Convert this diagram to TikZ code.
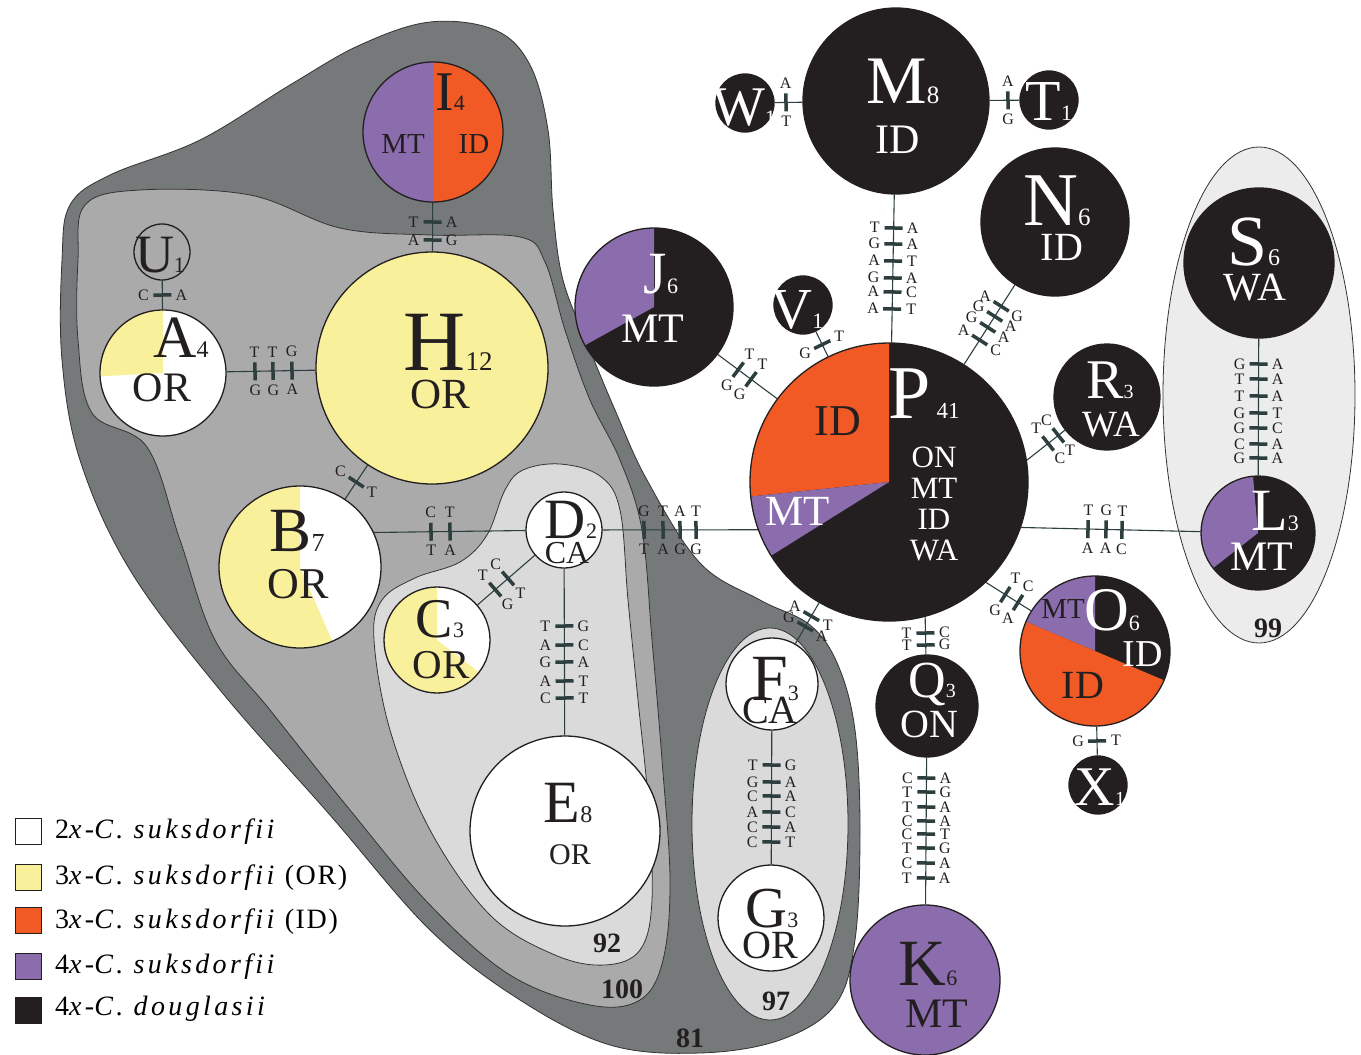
\documentclass[tikz,border=0pt]{standalone}
\usepackage{fontspec}
\setmainfont{Liberation Serif}
\usetikzlibrary{calc}
\pgfdeclarelayer{blobs}
\pgfdeclarelayer{links}
\pgfdeclarelayer{wedges}
\pgfsetlayers{blobs,links,wedges,main}

\definecolor{cyel}{HTML}{F9F09B}
\definecolor{corg}{HTML}{F15A25}
\definecolor{cpur}{HTML}{8B6DAE}
\definecolor{cblk}{HTML}{231F20}
\definecolor{gdark}{HTML}{75797A}
\definecolor{gmid}{HTML}{AAAAAA}
\definecolor{glight}{HTML}{DADADA}
\definecolor{gpale}{HTML}{ECECEC}
\definecolor{linec}{HTML}{2C3E3D}

\newcommand\fs[1]{\fontsize{#1}{#1}\selectfont}
% haplotype name with its count: letter, count, letter size, count size
\newcommand\hl[4]{{\fs{#3}#1}{\fs{#4}#2}}
% region tag in the legend, set with tighter spacing
\newcommand\regtag[1]{\hspace{7pt}{\addfontfeature{LetterSpace=6}(#1)}}

\tikzset{
  hap/.style={circle, draw=cblk, line width=1.3pt, inner sep=0pt},
  link/.style={draw=linec, line width=1.1pt},
  tick/.style={draw=linec, line width=3.5pt},
  base/.style={font=\fs{16}, text=cblk, inner sep=0pt},
  txt/.style={inner sep=0pt, anchor=base},
  boot/.style={font=\fs{28}\bfseries, inner sep=0pt, anchor=base, text=cblk},
  legbox/.style={draw=cblk, line width=1pt, minimum size=26pt, inner sep=0pt},
  legtxt/.style={inner sep=0pt, anchor=base west, font=\fs{28}\addfontfeature{LetterSpace=12}},
  region/.style={draw=black!80, line width=0.8pt},
}

% one mutation step on the link #1--#2, #3 pt from the centre of #1,
% base #4 on the counter-clockwise side, base #5 on the other side
\newcounter{mk}
\newcommand\mut[5]{%
  \stepcounter{mk}%
  \coordinate (mx\themk) at ($(#1)!#3pt!(#2)$);
  \begin{pgfonlayer}{links}
    \draw[tick] ($(mx\themk)!9pt!90:(#2)$) -- ($(mx\themk)!9pt!-90:(#2)$);
  \end{pgfonlayer}
  \node[base] (ma\themk) at ($(mx\themk)!19pt!90:(#2)$) {#4};
  \node[base] (mb\themk) at ($(mx\themk)!19pt!-90:(#2)$) {#5};}

% pie wedge: centre, radius, from angle, to angle (counter-clockwise), colour
\newcommand\hapwedge[5]{%
  \begin{pgfonlayer}{wedges}
    \fill[#5] (#1) -- ++(-#3:#2) arc[start angle=-#3, end angle=-#4, radius=#2] -- cycle;
  \end{pgfonlayer}}

\begin{document}
\begin{tikzpicture}[x=1pt,y=-1pt]
\useasboundingbox (0,0) rectangle (1361,1055);

% ---- support regions ----
\begin{pgfonlayer}{blobs}
\fill[white] (0,0) rectangle (1361,1055);
\fill[gdark, region] plot[smooth cycle, tension=0.6] coordinates {
  (62,260) (70,205) (110,175) (200,140) (290,85) (360,45) (430,22) (495,30)
  (530,65) (548,130) (553,210) (563,280) (588,345) (615,410) (647,480)
  (700,563) (760,600) (810,625) (838,665) (855,730) (860,830) (855,940)
  (835,1005) (780,1040) (700,1053) (610,1045) (520,1000) (430,930)
  (330,815) (220,690) (130,570) (80,460) (62,360)};
\fill[gmid, region] plot[smooth cycle, tension=0.6] coordinates {
  (78,260) (85,205) (140,190) (250,195) (340,228) (430,235) (520,237)
  (545,262) (565,330) (590,400) (620,460) (642,530) (652,640) (662,760)
  (670,880) (663,960) (640,1000) (590,1005) (510,975) (430,905) (350,810)
  (270,710) (215,640) (180,540) (147,447) (92,413) (78,340)};
\fill[glight, region] plot[smooth cycle, tension=0.6] coordinates {
  (505,490) (523,470) (560,464) (600,476) (620,510) (628,600) (638,700)
  (648,800) (652,900) (640,950) (605,965) (555,955) (490,915) (430,830)
  (390,730) (374,640) (382,600) (415,578) (460,562) (487,535)};
\fill[glight, region] (770,824) ellipse[x radius=78, y radius=196];
\fill[gpale, region] (1259,395) ellipse[x radius=96, y radius=248];
\end{pgfonlayer}

% ---- haplotypes ----
\node[hap, minimum size=140pt] (hI) at (433,132) {};
\hapwedge{433,132}{70}{90}{270}{cpur}
\hapwedge{433,132}{70}{270}{450}{corg}
\node[hap, minimum size=56pt] (hU) at (162,252) {};
\node[hap, minimum size=126pt] (hA) at (163,373) {};
\hapwedge{163,373}{63}{0}{360}{white}
\hapwedge{163,373}{63}{90}{183}{cyel}
\node[hap, minimum size=232pt, fill=cyel] (hH) at (432,368) {};
\node[hap, minimum size=162pt] (hB) at (300,567) {};
\hapwedge{300,567}{81}{0}{360}{white}
\hapwedge{300,567}{81}{90}{293.5}{cyel}
\node[hap, minimum size=106pt] (hC) at (437,640) {};
\hapwedge{437,640}{53}{0}{360}{white}
\hapwedge{437,640}{53}{90}{322.5}{cyel}
\node[hap, minimum size=76pt, fill=white] (hD) at (564,530) {};
\node[hap, minimum size=190pt, fill=white] (hE) at (565,831) {};
\node[hap, minimum size=92pt, fill=white] (hF) at (772,684) {};
\node[hap, minimum size=106pt, fill=white] (hG) at (771,918) {};
\node[hap, minimum size=158pt] (hJ) at (654,307) {};
\hapwedge{654,307}{79}{0}{360}{cblk}
\hapwedge{654,307}{79}{90}{209}{cpur}
\node[hap, minimum size=58pt, fill=cblk] (hV) at (803,305) {};
\node[hap, minimum size=278pt] (hP) at (889,482) {};
\hapwedge{889,482}{139}{0}{360}{cblk}
\hapwedge{889,482}{139}{90}{186}{corg}
\hapwedge{889,482}{139}{186}{212}{cpur}
\node[hap, minimum size=186pt, fill=cblk] (hM) at (896,101) {};
\node[hap, minimum size=58pt, fill=cblk] (hW) at (745,103) {};
\node[hap, minimum size=58pt, fill=cblk] (hT) at (1049,100) {};
\node[hap, minimum size=148pt, fill=cblk] (hN) at (1055,222) {};
\node[hap, minimum size=106pt, fill=cblk] (hR) at (1107,397) {};
\node[hap, minimum size=150pt, fill=cblk] (hS) at (1259,263) {};
\node[hap, minimum size=114pt] (hL) at (1258,533) {};
\hapwedge{1258,533}{57}{0}{360}{cblk}
\hapwedge{1258,533}{57}{95}{218}{cpur}
\node[hap, minimum size=150pt] (hO) at (1095,651) {};
\hapwedge{1095,651}{75}{0}{360}{cblk}
\hapwedge{1095,651}{75}{90}{157}{cpur}
\hapwedge{1095,651}{75}{157}{337}{corg}
\node[hap, minimum size=58pt, fill=cblk] (hX) at (1098,785) {};
\node[hap, minimum size=102pt, fill=cblk] (hQ) at (927,706) {};
\node[hap, minimum size=150pt, fill=cpur] (hK) at (925,980) {};

% ---- links ----
\coordinate (bD) at (hB.25);
\coordinate (pD) at (hP.200);
\coordinate (pR) at (hP.9);
\coordinate (pL) at (hP.-19);
\coordinate (pO) at (hP.-46);
\coordinate (pQ) at (hP.-75);
\begin{pgfonlayer}{links}
\draw[link] (hU) -- (hA);
\draw[link] (hA) -- (hH);
\draw[link] (hI) -- (hH);
\draw[link] (hH) -- (hB);
\draw[link] (bD) -- (hD);
\draw[link] (hD) -- (hC);
\draw[link] (hD) -- (hE);
\draw[link] (hD) -- (pD);
\draw[link] (hP) -- (hF);
\draw[link] (hF) -- (hG);
\draw[link] (hJ) -- (hP);
\draw[link] (hV) -- (hP);
\draw[link] (hM) -- (hP);
\draw[link] (hW) -- (hM);
\draw[link] (hM) -- (hT);
\draw[link] (hN) -- (hP);
\draw[link] (hR) -- (pR);
\draw[link] (pL) -- (hL);
\draw[link] (hS) -- (hL);
\draw[link] (hO) -- (pO);
\draw[link] (hO) -- (hX);
\draw[link] (hQ) -- (pQ);
\draw[link] (hQ) -- (hK);
\end{pgfonlayer}

% ---- mutation steps ----
\mut{hU}{hA}{43}{A}{C}
\mut{hA}{hH}{92}{T}{G}
\mut{hA}{hH}{110}{T}{G}
\mut{hA}{hH}{129}{G}{A}
\mut{hI}{hH}{90}{A}{T}
\mut{hI}{hH}{108}{G}{A}
\mut{hH}{hB}{137}{T}{C}
\mut{bD}{hD}{57}{C}{T}
\mut{bD}{hD}{76}{T}{A}
\mut{hD}{hC}{74}{T}{C}
\mut{hD}{hC}{91}{G}{T}
\mut{hD}{hE}{96}{G}{T}
\mut{hD}{hE}{115}{C}{A}
\mut{hD}{hE}{132}{A}{G}
\mut{hD}{hE}{151}{T}{A}
\mut{hD}{hE}{168}{T}{C}
\mut{hD}{pD}{80}{G}{T}
\mut{hD}{pD}{99}{T}{A}
\mut{hD}{pD}{116}{A}{G}
\mut{hD}{pD}{132}{T}{G}
\mut{hP}{hF}{155}{T}{A}
\mut{hP}{hF}{167}{A}{G}
\mut{hF}{hG}{81}{G}{T}
\mut{hF}{hG}{98}{A}{G}
\mut{hF}{hG}{112}{A}{C}
\mut{hF}{hG}{128}{C}{A}
\mut{hF}{hG}{143}{A}{C}
\mut{hF}{hG}{158}{T}{C}
\mut{hJ}{hP}{105}{T}{G}
\mut{hJ}{hP}{121}{T}{G}
\mut{hV}{hP}{44}{T}{G}
\mut{hM}{hP}{127}{A}{T}
\mut{hM}{hP}{143}{A}{G}
\mut{hM}{hP}{160}{T}{A}
\mut{hM}{hP}{177}{A}{G}
\mut{hM}{hP}{191}{C}{A}
\mut{hM}{hP}{208}{T}{A}
\mut{hW}{hM}{41}{A}{T}
\mut{hM}{hT}{112}{A}{G}
\mut{hN}{hP}{100}{G}{A}
\mut{hN}{hP}{112}{A}{G}
\mut{hN}{hP}{125}{A}{G}
\mut{hN}{hP}{140}{C}{A}
\mut{hR}{pR}{62}{T}{C}
\mut{hR}{pR}{75}{C}{T}
\mut{pL}{hL}{67}{T}{A}
\mut{pL}{hL}{85}{G}{A}
\mut{pL}{hL}{101}{T}{C}
\mut{hS}{hL}{101}{A}{G}
\mut{hS}{hL}{116}{A}{T}
\mut{hS}{hL}{133}{A}{T}
\mut{hS}{hL}{150}{T}{G}
\mut{hS}{hL}{165}{C}{G}
\mut{hS}{hL}{181}{A}{C}
\mut{hS}{hL}{195}{A}{G}
\mut{hO}{pO}{91}{A}{C}
\mut{hO}{pO}{106}{G}{T}
\mut{hO}{hX}{90}{T}{G}
\mut{hQ}{pQ}{61}{T}{G}
\mut{hQ}{pQ}{73}{T}{C}
\mut{hQ}{hK}{72}{A}{C}
\mut{hQ}{hK}{86}{G}{T}
\mut{hQ}{hK}{101}{A}{T}
\mut{hQ}{hK}{115}{A}{C}
\mut{hQ}{hK}{128}{T}{C}
\mut{hQ}{hK}{142}{G}{T}
\mut{hQ}{hK}{157}{A}{C}
\mut{hQ}{hK}{172}{A}{T}

% ---- haplotype labels ----
\node[txt, text=cblk] (tI) at (450,110) {\hl{I}{4}{56}{22}};
\node[txt, text=cblk] (tI2) at (403,153) {\fs{29}MT};
\node[txt, text=cblk] (tI3) at (474,153) {\fs{29}ID};
\node[txt, text=cblk] (tU) at (160,272) {\hl{U}{1}{54}{22}};
\node[txt, text=cblk] (tA) at (181,357) {\hl{A}{4}{60}{24}};
\node[txt, text=cblk] (tA2) at (162,401) {\fs{42}OR};
\node[txt, text=cblk] (tH) at (448,370) {\hl{H}{12}{86}{27}};
\node[txt, text=cblk] (tH2) at (440,408) {\fs{43}OR};
\node[txt, text=cblk] (tB) at (297,551) {\hl{B}{7}{63}{26}};
\node[txt, text=cblk] (tB2) at (298,598) {\fs{44}OR};
\node[txt, text=cblk] (tC) at (440,637) {\hl{C}{3}{56}{22}};
\node[txt, text=cblk] (tC2) at (441,678) {\fs{41}OR};
\node[txt, text=cblk] (tD) at (571,538) {\hl{D}{2}{57}{22}};
\node[txt, text=cblk] (tD2) at (567,563) {\fs{32}CA};
\node[txt, text=cblk] (tE) at (568,822) {\hl{E}{8}{60}{24}};
\node[txt, text=cblk] (tE2) at (570,864) {\fs{30}OR};
\node[txt, text=cblk] (tF) at (775,700) {\hl{F}{3}{66}{22}};
\node[txt, text=cblk] (tF2) at (770,723) {\fs{40}CA};
\node[txt, text=cblk] (tG) at (772,927) {\hl{G}{3}{58}{22}};
\node[txt, text=cblk] (tG2) at (770,958) {\fs{40}OR};
\node[txt, text=white] (tJ) at (661,293) {\hl{J}{6}{60}{22}};
\node[txt, text=white] (tJ2) at (653,342) {\fs{42}MT};
\node[txt, text=white] (tV) at (797,328) {\hl{V}{1}{58}{22}};
\node[txt, text=white] (tP) at (924,418) {{\fs{76}P}\hspace{6pt}{\fs{23}41}};
\node[txt, text=cblk] (tP2) at (838,435) {\fs{44}ID};
\node[txt, text=white] (tP3) at (934,467) {\fs{31}ON};
\node[txt, text=white] (tP4) at (934,498) {\fs{31}MT};
\node[txt, text=white] (tP5) at (934,529) {\fs{31}ID};
\node[txt, text=white] (tP6) at (934,560) {\fs{31}WA};
\node[txt, text=white] (tP7) at (798,525) {\fs{43}MT};
\node[txt, text=white] (tM) at (903,103) {\hl{M}{8}{68}{25}};
\node[txt, text=white] (tM2) at (898,153) {\fs{42}ID};
\node[txt, text=white] (tW) at (744,125) {\hl{W}{1}{56}{22}};
\node[txt, text=white] (tT) at (1049,120) {\hl{T}{1}{58}{22}};
\node[txt, text=white] (tN) at (1057,225) {\hl{N}{6}{76}{25}};
\node[txt, text=white] (tN2) at (1062,260) {\fs{40}ID};
\node[txt, text=white] (tR) at (1110,398) {\hl{R}{3}{56}{20}};
\node[txt, text=white] (tR2) at (1111,436) {\fs{37}WA};
\node[txt, text=white] (tS) at (1254,265) {\hl{S}{6}{72}{24}};
\node[txt, text=white] (tS2) at (1255,300) {\fs{40}WA};
\node[txt, text=white] (tL) at (1275,530) {\hl{L}{3}{60}{22}};
\node[txt, text=white] (tL2) at (1262,570) {\fs{42}MT};
\node[txt, text=cblk] (tO1) at (1063,618) {\fs{29}MT};
\node[txt, text=white] (tO) at (1112,630) {\hl{O}{6}{62}{22}};
\node[txt, text=white] (tO2) at (1143,666) {\fs{38}ID};
\node[txt, text=cblk] (tO3) at (1083,698) {\fs{40}ID};
\node[txt, text=white] (tX) at (1100,805) {\hl{X}{1}{56}{20}};
\node[txt, text=white] (tQ) at (932,697) {\hl{Q}{3}{52}{20}};
\node[txt, text=white] (tQ2) at (929,737) {\fs{40}ON};
\node[txt, text=cblk] (tK) at (928,985) {\hl{K}{6}{66}{22}};
\node[txt, text=cblk] (tK2) at (937,1027) {\fs{42}MT};

% ---- bootstrap support ----
\node[boot] (b92) at (607,952) {92};
\node[boot] (b100) at (622,998) {100};
\node[boot] (b97) at (776,1010) {97};
\node[boot] (b81) at (690,1047) {81};
\node[boot] (b99) at (1268,637) {99};

% ---- legend ----
\node[legbox, fill=white] (k1) at (28,831) {};
\node[legbox, fill=cyel] (k2) at (28,877) {};
\node[legbox, fill=corg] (k3) at (28,920) {};
\node[legbox, fill=cpur] (k4) at (28,966) {};
\node[legbox, fill=cblk] (k5) at (28,1010) {};
\node[legtxt] (l1) at (55,838) {2\textit{x}-\textit{C. suksdorfii}};
\node[legtxt] (l2) at (55,884) {3\textit{x}-\textit{C. suksdorfii}\regtag{OR}};
\node[legtxt] (l3) at (55,928) {3\textit{x}-\textit{C. suksdorfii}\regtag{ID}};
\node[legtxt] (l4) at (55,973) {4\textit{x}-\textit{C. suksdorfii}};
\node[legtxt] (l5) at (55,1015) {4\textit{x}-\textit{C. douglasii}};
\end{tikzpicture}
\end{document}
